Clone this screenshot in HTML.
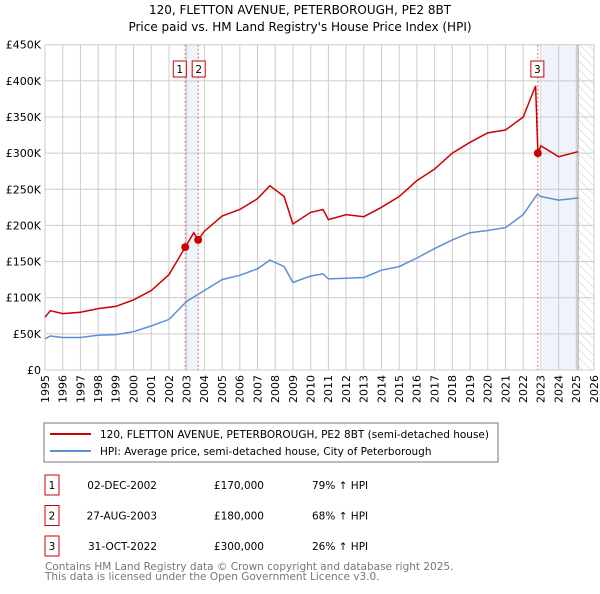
<!DOCTYPE html>
<html><head><meta charset="utf-8"><style>
body{margin:0;background:#fff;font-family:"DejaVu Sans","Liberation Sans",sans-serif;}
svg text{font-family:"DejaVu Sans","Liberation Sans",sans-serif;}
</style></head><body>
<svg id="c" width="600" height="590" xmlns="http://www.w3.org/2000/svg">
<defs><pattern id="hatch" width="6" height="6" patternUnits="userSpaceOnUse" patternTransform="rotate(-45)"><line x1="0" y1="0" x2="0" y2="6" stroke="#ccc" stroke-width="1"/></pattern></defs>
<text x="300" y="14" text-anchor="middle" font-size="12">120, FLETTON AVENUE, PETERBOROUGH, PE2 8BT</text>
<text x="300" y="31" text-anchor="middle" font-size="12">Price paid vs. HM Land Registry's House Price Index (HPI)</text>
<g id="plot"></g>
<rect x="44" y="423" width="454" height="39" fill="#fff" stroke="#777"/>
<line x1="50" y1="434" x2="91" y2="434" stroke="#cc0000" stroke-width="2"/>
<text x="100" y="438" font-size="10.5">120, FLETTON AVENUE, PETERBOROUGH, PE2 8BT (semi-detached house)</text>
<line x1="50" y1="451" x2="91" y2="451" stroke="#5b8fd6" stroke-width="2"/>
<text x="100" y="455" font-size="10.5">HPI: Average price, semi-detached house, City of Peterborough</text>
<g id="table" font-size="10.5"></g>
<text x="45" y="570" font-size="10.5" fill="#777">Contains HM Land Registry data © Crown copyright and database right 2025.</text>
<text x="45" y="580" font-size="10.5" fill="#777">This data is licensed under the Open Government Licence v3.0.</text>
</svg>
<script>
const hpiYears=[1995,1995.3,1996,1997,1998,1999,2000,2001,2002,2003,2004,2005,2006,2007,2007.7,2008.5,2009,2010,2010.7,2011,2012,2013,2014,2015,2016,2017,2018,2019,2020,2021,2022,2022.8,2023,2024,2025.1];
const hpiValues=[43,47,45,45,48,49,53,61,70,95,110,125,131,140,152,143,121,130,133,126,127,128,138,143,155,168,180,190,193,197,215,243,240,235,238];
const redYears=[1995,1995.3,1996,1997,1998,1999,2000,2001,2002,2002.92,2003.4,2003.65,2004,2005,2006,2007,2007.7,2008.5,2009,2010,2010.7,2011,2012,2013,2014,2015,2016,2017,2018,2019,2020,2021,2022,2022.7,2022.83,2023,2024,2025.1];
const redValues=[73,82,78,80,85,88,97,110,132,170,190,180,192,213,222,237,255,240,202,218,222,208,215,212,225,240,262,278,300,315,328,332,350,393,300,310,295,302];
const yTicks=[0,50,100,150,200,250,300,350,400,450];
const yTickLabels=["£0","£50K","£100K","£150K","£200K","£250K","£300K","£350K","£400K","£450K"];
const saleLabels=["1","2","3"];
const saleYears=[2002.92,2003.65,2022.83];
const saleValues=[170,180,300];
const saleDates=["02-DEC-2002","27-AUG-2003","31-OCT-2022"];
const salePrices=["£170,000","£180,000","£300,000"];
const saleHpi=["79% ↑ HPI","68% ↑ HPI","26% ↑ HPI"];
const X0=45,X1=594,Y0=370,Y1=44.7;
const xs=y=>X0+(y-1995)*(X1-X0)/31;
const ys=v=>Y0-v*(Y0-Y1)/450;
const NS="http://www.w3.org/2000/svg";
const plot=document.getElementById('plot');
function mk(t,a,p){const e=document.createElementNS(NS,t);for(const k in a)e.setAttribute(k,a[k]);(p||plot).appendChild(e);return e;}
let e;
e=mk('rect',{x:xs(saleYears[0]),y:Y1,width:xs(saleYears[1])-xs(saleYears[0]),height:Y0-Y1,fill:'#eef3fc'});


e=mk('rect',{x:xs(2023.1),y:Y1,width:xs(2025.1)-xs(2023.1),height:Y0-Y1,fill:'#eef3fc'});


e=mk('rect',{x:xs(2025.1),y:Y1,width:X1-xs(2025.1),height:Y0-Y1,fill:'url(#hatch)'});


for(let y=1995;y<=2026;y++){
  e=mk('line',{x1:xs(y),x2:xs(y),y1:Y1,y2:Y0,stroke:'#ccc','stroke-width':1});
  
  
  e=mk('text',{x:xs(y),y:Y0+5,'font-size':11,'text-anchor':'end',transform:`rotate(-90 ${xs(y)} ${Y0+5})`,dy:'0.35em'});
  e.textContent=y;
  
  
}
yTicks.forEach((v,i)=>{
  e=mk('line',{x1:X0,x2:X1,y1:ys(v),y2:ys(v),stroke:'#ccc','stroke-width':1});
  
  
  e=mk('text',{x:X0-4,y:ys(v)+4,'font-size':11,'text-anchor':'end'});
  e.textContent=yTickLabels[i];
  
  
});
e=mk('line',{x1:xs(2025.1),x2:xs(2025.1),y1:Y1,y2:Y0,stroke:'#999','stroke-width':1});


saleYears.forEach((y,i)=>{
  e=mk('line',{x1:xs(y),x2:xs(y),y1:Y1,y2:Y0,stroke:'#e06060','stroke-width':1,'stroke-dasharray':'2,2'});
  
  
});
const path=(xa,va)=>xa.map((y,i)=>(i?'L':'M')+xs(y).toFixed(1)+','+ys(va[i]).toFixed(1)).join('');
e=mk('path',{d:path(hpiYears,hpiValues),fill:'none',stroke:'#5b8fd6','stroke-width':1.5});


e=mk('path',{d:path(redYears,redValues),fill:'none',stroke:'#cc0000','stroke-width':1.5});


saleYears.forEach((y,i)=>{
  e=mk('circle',{cx:xs(y),cy:ys(saleValues[i]),r:4,fill:'#cc0000'});
  
  
  const bx=i==0?xs(y)-12:(i==1?xs(y)-6:xs(y)-7);
  e=mk('rect',{x:bx,y:61,width:13,height:16,fill:'#fff',stroke:'#cc0000'});
  
  
  e=mk('text',{x:bx+6.5,y:73,'font-size':10.5,'text-anchor':'middle'});
  e.textContent=saleLabels[i];
  
  
});
const tb=document.getElementById('table');
saleLabels.forEach((l,i)=>{
  const cy=483+i*30.5;
  e=mk('rect',{x:45,y:cy-8,width:14,height:20,fill:'#fff',stroke:'#cc0000'},tb);
  
  
  const cols=[[52,l,'middle'],[157,saleDates[i],'end'],[264,salePrices[i],'end'],[312,saleHpi[i],'start']];
  cols.forEach(c=>{
    e=mk('text',{x:c[0],y:cy+6,'text-anchor':c[2]},tb);
    e.textContent=c[1];
    
    
  });
});
</script>
</body></html>
